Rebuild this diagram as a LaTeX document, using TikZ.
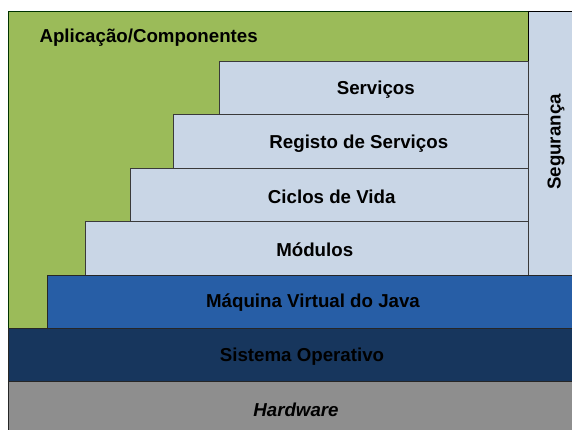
\documentclass[tikz,border=0pt]{standalone}
\usepackage{fontspec}
\setmainfont{Liberation Sans}
\definecolor{appgreen}{HTML}{9BBB59}
\definecolor{lightblue}{HTML}{C9D6E6}
\definecolor{jvmblue}{HTML}{275EA6}
\definecolor{osnavy}{HTML}{17365D}
\definecolor{hwgray}{HTML}{8E8E8E}
\definecolor{edgegray}{HTML}{3A3A3A}
\tikzset{
  layer/.style={draw=edgegray, line width=0.8pt},
  lbl/.style={font=\fontsize{18.7}{21}\selectfont\bfseries, text=black, inner sep=0pt, anchor=center},
}
\begin{document}
\begin{tikzpicture}[x=1pt,y=-1pt]
\useasboundingbox (0,0) rectangle (572,430);
\begin{scope}
\clip (0,0) rectangle (572,430);
% application layer (green background)
\draw[layer, draw=black!80!green, fill=appgreen] (8.5,11) rectangle (528.3,328.5);
% security column
\draw[layer, draw=black, fill=lightblue] (528.3,11) rectangle (590,275);
% stacked framework layers
\draw[layer, fill=lightblue] (219,61.3) rectangle (528.3,114.5);
\draw[layer, fill=lightblue] (173,114.5) rectangle (528.3,168);
\draw[layer, fill=lightblue] (130,168) rectangle (528.3,221.8);
\draw[layer, fill=lightblue] (85,221.8) rectangle (528.3,275);
% JVM, OS, hardware
\draw[layer, draw=black!85, fill=jvmblue] (47,275) rectangle (590,328.5);
\draw[layer, draw=black!85, fill=osnavy] (8.5,328.5) rectangle (590,381.7);
\draw[layer, draw=black!85, fill=hwgray] (8.5,381.7) rectangle (590,440);
\end{scope}
% labels
\node[lbl, anchor=west] (app) at (39.3,38) {Aplicação/Componentes};
\node[lbl] (serv) at (375.8,90) {Serviços};
\node[lbl] (reg) at (358.8,144) {Registo de Serviços};
\node[lbl] (cic) at (331.7,196.5) {Ciclos de Vida};
\node[lbl] (mod) at (314.7,250) {Módulos};
\node[lbl, rotate=90] (seg) at (556,142) {Segurança};
\node[lbl] (jvm) at (313,303) {Máquina Virtual do Java};
\node[lbl] (os) at (302,356.5) {Sistema Operativo};
\node[lbl, font=\fontsize{18.7}{21}\selectfont\bfseries\itshape] (hw) at (296,409.5) {Hardware};
\end{tikzpicture}
\end{document}
